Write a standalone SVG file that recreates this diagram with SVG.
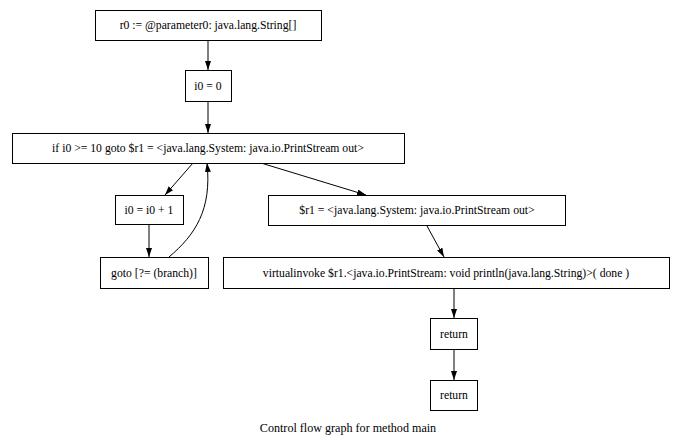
<svg xmlns="http://www.w3.org/2000/svg" width="674" height="440" viewBox="0 0 674 440">
  <style>
    .node rect { fill: #ffffff; stroke: #000000; stroke-width: 1; }
    .node text, .caption { font-family: "Liberation Serif", "Times New Roman", serif; font-size: 11.7px; fill: #000000; text-anchor: middle; }
    .caption { font-size: 12.1px; }
    .edge { fill: none; stroke: #000000; stroke-width: 1; marker-end: url(#arrow); }
  </style>
  <defs>
    <marker id="arrow" viewBox="0 0 9 6" refX="9" refY="3" markerWidth="9" markerHeight="6" markerUnits="userSpaceOnUse" orient="auto">
      <path d="M0,0 L9,3 L0,6 Z" fill="#000000"/>
    </marker>
  </defs>
  <rect width="674" height="440" fill="#ffffff"/>

  <g id="connectors">
    <path class="edge" d="M208,40 L208,70"/>
    <path class="edge" d="M208,101 L208,133"/>
    <path class="edge" d="M193,163 L165,195"/>
    <path class="edge" d="M149,224 L149,257"/>
    <path class="edge" d="M169,257 C195,235 212,210 207,163"/>
    <path class="edge" d="M261,163 L366,195"/>
    <path class="edge" d="M427,226 L444,257"/>
    <path class="edge" d="M454,289 L454,318"/>
    <path class="edge" d="M454,349 L454,380"/>
  </g>

  <g id="n_param" class="node">
    <rect x="95.5" y="10.5" width="226" height="30"/>
    <text x="208" y="29">r0 := @parameter0: java.lang.String[]</text>
  </g>
  <g id="n_init" class="node">
    <rect x="185.5" y="70.5" width="46" height="31"/>
    <text x="208" y="90">i0 = 0</text>
  </g>
  <g id="n_if" class="node">
    <rect x="12.5" y="133.5" width="392" height="30"/>
    <text x="208" y="152">if i0 &gt;= 10 goto $r1 = &lt;java.lang.System: java.io.PrintStream out&gt;</text>
  </g>
  <g id="n_incr" class="node">
    <rect x="115.5" y="195.5" width="68" height="29"/>
    <text x="149" y="214">i0 = i0 + 1</text>
  </g>
  <g id="n_goto" class="node">
    <rect x="100.5" y="257.5" width="108" height="31"/>
    <text x="154" y="277">goto [?= (branch)]</text>
  </g>
  <g id="n_out" class="node">
    <rect x="268.5" y="195.5" width="297" height="30"/>
    <text x="417" y="214">$r1 = &lt;java.lang.System: java.io.PrintStream out&gt;</text>
  </g>
  <g id="n_invoke" class="node">
    <rect x="223.5" y="257.5" width="446" height="31"/>
    <text x="446" y="277">virtualinvoke $r1.&lt;java.io.PrintStream: void println(java.lang.String)&gt;( done )</text>
  </g>
  <g id="n_ret1" class="node">
    <rect x="430.5" y="318.5" width="47" height="31"/>
    <text x="454" y="338">return</text>
  </g>
  <g id="n_ret2" class="node">
    <rect x="430.5" y="380.5" width="47" height="30"/>
    <text x="454" y="399">return</text>
  </g>

  <text class="caption" x="348" y="432">Control flow graph for method main</text>
</svg>
